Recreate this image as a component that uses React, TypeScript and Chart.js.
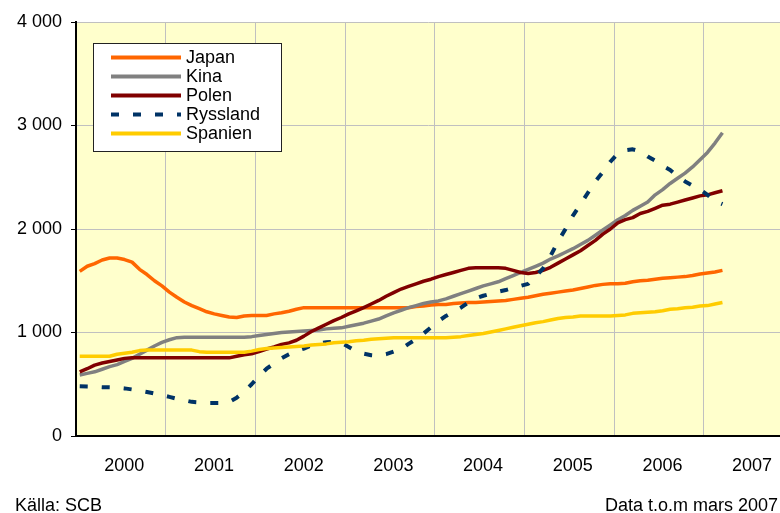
import React, { useEffect, useRef } from "react";
import { Chart, registerables } from "chart.js";

Chart.register(...registerables);

// Monthly series, January 2000 – March 2007
const years = ["2000", "2001", "2002", "2003", "2004", "2005", "2006", "2007"];
const yTicks = [0, 1000, 2000, 3000, 4000];

const japan = [
  1590, 1640, 1665, 1700, 1720, 1720, 1705, 1680, 1610, 1560,
  1500, 1450, 1390, 1340, 1295, 1260, 1230, 1200, 1180, 1165,
  1150, 1145, 1160, 1165, 1165, 1165, 1180, 1190, 1205, 1225,
  1240, 1240, 1240, 1240, 1240, 1240, 1240, 1240, 1240, 1240,
  1240, 1240, 1240, 1240, 1240, 1250, 1255, 1265, 1270, 1270,
  1280, 1285, 1290, 1290, 1295, 1300, 1305, 1310, 1320, 1330,
  1340, 1355, 1370, 1380, 1390, 1400, 1410, 1425, 1440, 1455,
  1465, 1470, 1470, 1475, 1490, 1500, 1505, 1515, 1525, 1530,
  1535, 1540, 1550, 1565, 1575, 1585, 1600,
];

const kina = [
  590, 605, 620, 645, 670, 690, 720, 750, 790, 830,
  870, 905, 930, 950, 955, 955, 955, 955, 955, 955,
  955, 955, 955, 960, 970, 980, 990, 1000, 1005, 1010,
  1015, 1020, 1025, 1035, 1040, 1045, 1060, 1075, 1090, 1110,
  1130, 1160, 1190, 1215, 1240, 1260, 1280, 1295, 1305, 1325,
  1350, 1375, 1400, 1425, 1450, 1470, 1490, 1520, 1550, 1580,
  1610, 1640, 1670, 1710, 1740, 1775, 1810, 1850, 1890, 1940,
  1990, 2040, 2090, 2130, 2180, 2220, 2260, 2330, 2380, 2440,
  2490, 2540, 2600, 2670, 2740, 2830, 2930,
];

const polen = [
  620, 650, 685, 705, 720, 735, 750, 755, 755, 755,
  755, 755, 755, 755, 755, 755, 755, 755, 755, 755,
  755, 770, 785, 795, 815, 840, 860, 885, 900, 925,
  965, 1010, 1045, 1080, 1115, 1145, 1180, 1210, 1240, 1275,
  1310, 1350, 1385, 1420, 1445, 1470, 1495, 1515, 1540, 1560,
  1580, 1600, 1620, 1625, 1625, 1625, 1625, 1620, 1600, 1580,
  1570, 1580, 1600, 1630, 1670, 1710, 1750, 1790, 1840, 1890,
  1950, 2000, 2060, 2090, 2110, 2150, 2170, 2200, 2230, 2240,
  2260, 2280, 2300, 2320, 2330, 2350, 2370,
];

const ryssland = [
  480, 478, 476, 472, 470, 468, 460, 450, 438, 425,
  410, 395, 378, 360, 345, 330, 325, 320, 320, 320,
  330, 370, 430, 500, 580, 650, 700, 750, 790, 820,
  845, 875, 895, 905, 912, 900, 860, 820, 795, 780,
  775, 790, 815, 840, 890, 935, 990, 1050, 1110, 1160,
  1200, 1240, 1290, 1330, 1355, 1375, 1395, 1410, 1430, 1450,
  1470, 1540, 1620, 1740, 1880, 2000, 2130, 2240, 2350, 2460,
  2550, 2650, 2730, 2760, 2770, 2750, 2700, 2660, 2610, 2570,
  2510, 2460, 2420, 2380, 2330, 2270, 2240,
];

const spanien = [
  770, 770, 770, 770, 770, 790, 800, 810, 825, 830,
  830, 830, 830, 830, 830, 830, 815, 810, 810, 810,
  810, 810, 810, 820, 835, 845, 850, 855, 860, 865,
  870, 880, 885, 890, 900, 905, 910, 920, 925, 935,
  940, 945, 950, 950, 950, 950, 950, 950, 950, 950,
  955, 960, 970, 980, 990, 1005, 1020, 1035, 1050, 1065,
  1080, 1095, 1105, 1120, 1135, 1145, 1150, 1160, 1160, 1160,
  1160, 1160, 1165, 1170, 1185, 1190, 1195, 1200, 1210, 1225,
  1230, 1240, 1245, 1255, 1260, 1275, 1290,
];

const seriesNames = ["Japan", "Kina", "Polen", "Ryssland", "Spanien"];
const seriesValues = [japan, kina, polen, ryssland, spanien];
const seriesColors = ["#FF6600", "#808080", "#800000", "#003366", "#FFCC00"];
const seriesDash: number[][] = [[], [], [], [8, 14], []];

const sourceText = "Källa: SCB";
const noteText = "Data t.o.m mars 2007";

const FONT = "'Liberation Sans', Arial, Helvetica, sans-serif";
const MONTHS_PER_YEAR = 12;
const AXIS_MONTHS = 94.2;

function formatThousands(v: number): string {
  return String(v).replace(/\B(?=(\d{3})+(?!\d))/g, " ");
}

const decorPlugin = {
  id: "decor",
  beforeDraw(chart: any) {
    const { ctx, chartArea: a } = chart;
    ctx.save();
    ctx.fillStyle = "#FFFFCC";
    ctx.fillRect(a.left, a.top, a.right - a.left, a.bottom - a.top);
    ctx.restore();
  },
  afterDraw(chart: any) {
    const { ctx } = chart;
    ctx.save();

    // legend box
    const bx = 93.5, by = 43.5, bw = 188, bh = 108;
    ctx.fillStyle = "#FFFFFF";
    ctx.fillRect(bx, by, bw, bh);
    ctx.strokeStyle = "#222222";
    ctx.lineWidth = 1;
    ctx.strokeRect(bx, by, bw, bh);

    ctx.font = `18px ${FONT}`;
    ctx.textBaseline = "middle";
    ctx.textAlign = "left";
    seriesNames.forEach((name, i) => {
      const y = 57.5 + i * 19;
      ctx.beginPath();
      ctx.strokeStyle = seriesColors[i];
      ctx.lineWidth = 4;
      ctx.lineCap = "butt";
      ctx.setLineDash(seriesDash[i]);
      ctx.moveTo(111, y);
      ctx.lineTo(181, y);
      ctx.stroke();
      ctx.setLineDash([]);
      ctx.fillStyle = "#000000";
      ctx.fillText(name, 186, y + 1);
    });

    // footer
    ctx.textBaseline = "alphabetic";
    ctx.fillStyle = "#000000";
    ctx.font = `18px ${FONT}`;
    ctx.textAlign = "left";
    ctx.fillText(sourceText, 15, 511);
    ctx.textAlign = "right";
    ctx.fillText(noteText, 778, 511);
    ctx.restore();
  },
};

export default function App() {
  const canvasRef = useRef<HTMLCanvasElement | null>(null);

  useEffect(() => {
    const canvas = canvasRef.current;
    if (!canvas) return;

    const datasets = seriesNames.map((name, s) => ({
      label: name,
      data: seriesValues[s].map((v, i) => ({ x: i + 0.5, y: v })),
      borderColor: seriesColors[s],
      backgroundColor: seriesColors[s],
      borderWidth: s === 3 ? 4 : 3.5,
      borderDash: seriesDash[s],
      borderCapStyle: "butt",
      borderJoinStyle: "round",
      pointRadius: 0,
      tension: 0,
      fill: false,
      order: seriesNames.length - s,
    }));

    const xTickValues: number[] = [];
    for (let v = 0; v <= years.length * MONTHS_PER_YEAR; v += MONTHS_PER_YEAR / 2) {
      if (v <= AXIS_MONTHS) xTickValues.push(v);
    }

    const chart = new Chart(canvas, {
      type: "line",
      data: { datasets } as any,
      options: {
        animation: false,
        responsive: false,
        devicePixelRatio: 1,
        layout: { autoPadding: false, padding: { top: 22, right: 0, bottom: 0, left: 0 } },
        plugins: {
          legend: { display: false },
          tooltip: { enabled: false },
          title: { display: false },
        },
        scales: {
          x: {
            type: "linear",
            min: 0,
            max: AXIS_MONTHS,
            afterBuildTicks: (scale: any) => {
              scale.ticks = xTickValues.map((v) => ({ value: v }));
            },
            afterFit: (scale: any) => {
              scale.height = 77;
              scale.paddingLeft = 0;
              scale.paddingRight = 0;
            },
            ticks: {
              autoSkip: false,
              maxRotation: 0,
              minRotation: 0,
              padding: 19,
              labelOffset: 3.5,
              color: "#000000",
              font: { family: FONT, size: 18 },
              callback: (value: any) => {
                const v = Number(value);
                if (v % MONTHS_PER_YEAR === MONTHS_PER_YEAR / 2) {
                  return years[(v - MONTHS_PER_YEAR / 2) / MONTHS_PER_YEAR] ?? "";
                }
                return "";
              },
            },
            grid: {
              drawTicks: false,
              lineWidth: 1,
              color: (ctx: any) => {
                const v = ctx.tick ? ctx.tick.value : -1;
                return v > 0 && v % MONTHS_PER_YEAR === 0 ? "#C0C0C0" : "rgba(0,0,0,0)";
              },
            },
            border: { display: true, color: "#000000", width: 2 },
          },
          y: {
            type: "linear",
            min: 0,
            max: 4000,
            afterBuildTicks: (scale: any) => {
              scale.ticks = yTicks.map((v) => ({ value: v }));
            },
            afterFit: (scale: any) => {
              scale.width = 76;
            },
            ticks: {
              padding: 9,
              color: "#000000",
              font: { family: FONT, size: 18 },
              callback: (value: any) => formatThousands(Number(value)),
            },
            grid: {
              color: "#C0C0C0",
              lineWidth: 1,
              drawTicks: true,
              tickLength: 5,
              tickColor: "#000000",
            },
            border: { display: true, color: "#000000", width: 2 },
          },
        },
      } as any,
      plugins: [decorPlugin],
    });

    return () => {
      chart.destroy();
    };
  }, []);

  return (
    <div style={{ position: "absolute", left: 0, top: 0, width: 780, height: 513, background: "#FFFFFF" }}>
      <canvas ref={canvasRef} width={780} height={513} style={{ display: "block" }} />
    </div>
  );
}
